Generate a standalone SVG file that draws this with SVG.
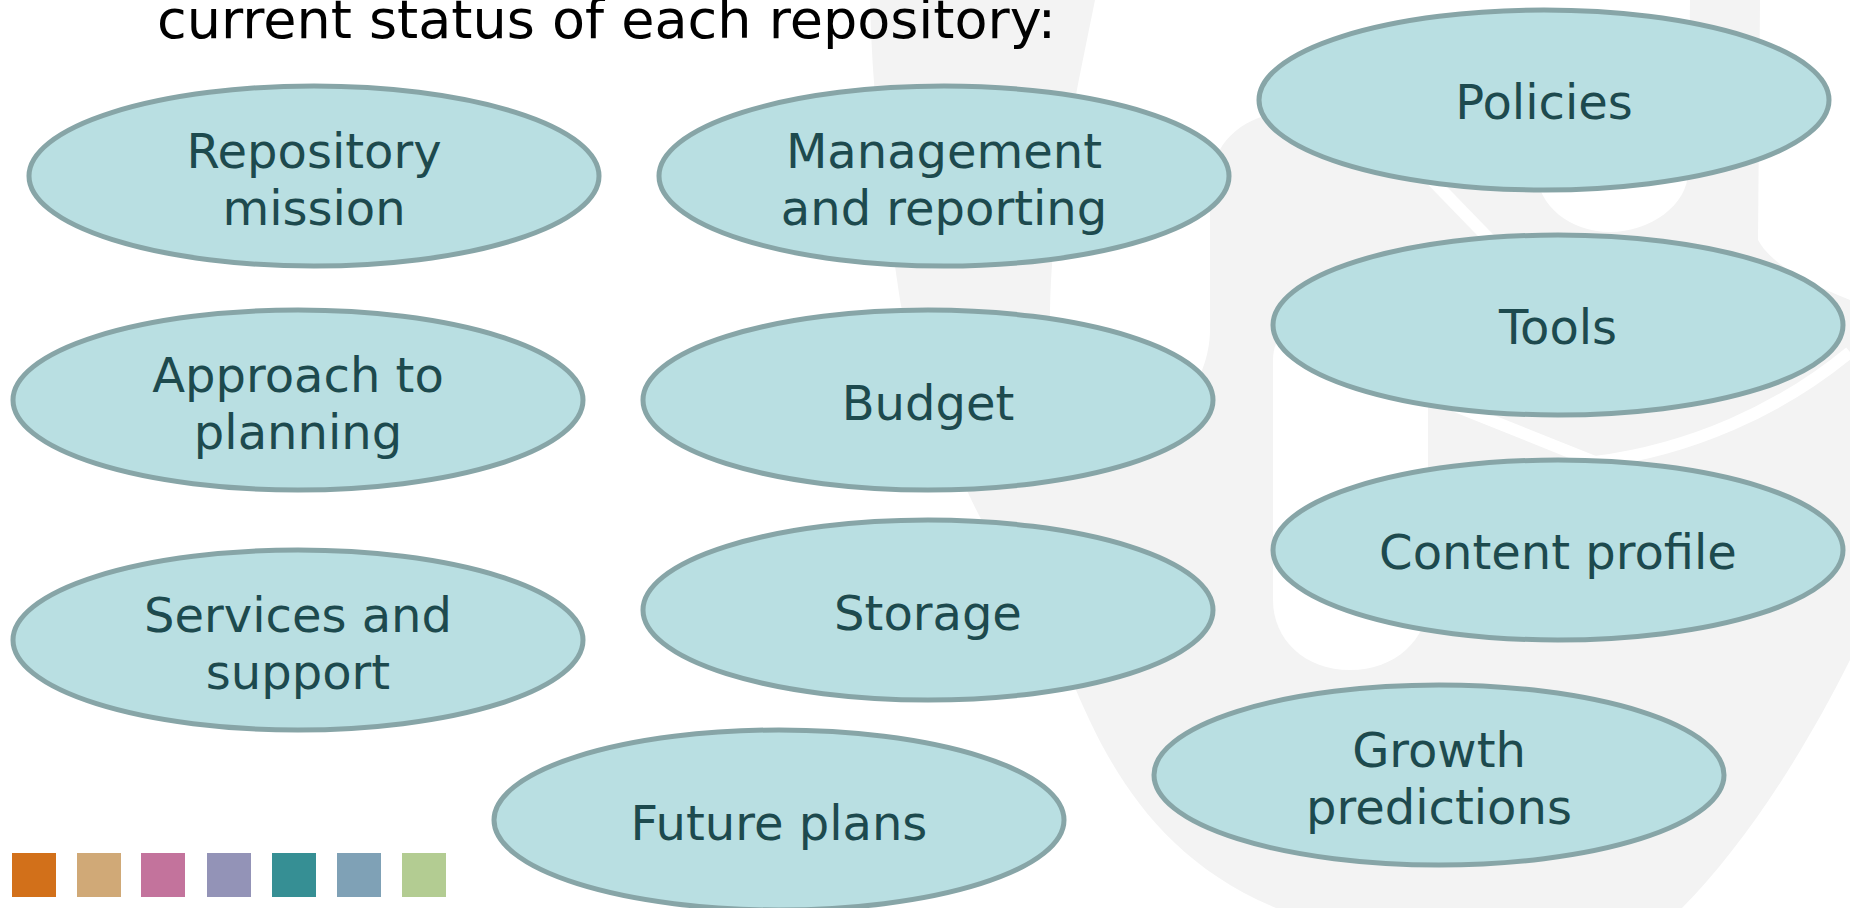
<svg xmlns="http://www.w3.org/2000/svg" width="1850" height="908" viewBox="0 0 1850 908">
<style>
.bg{fill:#f3f3f3}
.hole{fill:#ffffff}
.node ellipse{fill:#b9dfe2;stroke:#87a5a7;stroke-width:5}
.node text{font-family:"DejaVu Sans","Liberation Sans",sans-serif;font-size:48px;fill:#1d4a4e;text-anchor:middle}
.title{font-family:"DejaVu Sans","Liberation Sans",sans-serif;font-size:54px;fill:#000}
</style>
<rect width="1850" height="908" fill="#ffffff"/>
<g id="watermark">
<path class="bg" d="M870,0 L1850,0 L1850,660 C1800,760 1740,850 1682,908 L1276,908 C1160,860 1110,770 1076,690 C1040,620 1000,560 970,497 C935,420 910,360 900,300 C885,200 872,100 870,0 Z"/>
<path class="hole" d="M1095,0 C1075,100 1052,200 1050,310 L1050,400 C1050,430 1080,440 1110,440 C1170,440 1210,380 1210,330 L1210,190 C1210,140 1245,112 1300,110 L1537,110 L1537,172 C1537,205 1570,232 1610,232 C1650,232 1688,205 1688,172 L1690,0 Z"/>
<path class="hole" d="M1760,0 L1850,0 L1850,300 C1800,280 1770,262 1758,240 Z"/>
<path class="hole" d="M1273,360 C1273,335 1290,325 1310,325 L1390,325 C1410,325 1428,335 1428,360 L1428,600 C1428,640 1395,670 1350,670 C1305,670 1273,640 1273,600 Z"/>
<path d="M1432,180 L1495,245" stroke="#ffffff" stroke-width="12" fill="none"/>
<path d="M1440,400 L1595,462 C1690,450 1780,410 1850,352" stroke="#ffffff" stroke-width="12" fill="none"/>
</g>
<text class="title" x="157" y="38">current status of each repository:</text>
<g id="connectors"></g>
<g id="n-repository-mission" class="node"><ellipse cx="314" cy="176" rx="285" ry="90"/><text x="314" y="168">Repository</text><text x="314" y="225">mission</text></g>
<g id="n-management" class="node"><ellipse cx="944" cy="176" rx="285" ry="90"/><text x="944" y="168">Management</text><text x="944" y="225">and reporting</text></g>
<g id="n-policies" class="node"><ellipse cx="1544" cy="100" rx="285" ry="90"/><text x="1544" y="119">Policies</text></g>
<g id="n-tools" class="node"><ellipse cx="1558" cy="325" rx="285" ry="90"/><text x="1558" y="344">Tools</text></g>
<g id="n-approach" class="node"><ellipse cx="298" cy="400" rx="285" ry="90"/><text x="298" y="392">Approach to</text><text x="298" y="449">planning</text></g>
<g id="n-budget" class="node"><ellipse cx="928" cy="400" rx="285" ry="90"/><text x="928" y="420">Budget</text></g>
<g id="n-content" class="node"><ellipse cx="1558" cy="550" rx="285" ry="90"/><text x="1558" y="569">Content profile</text></g>
<g id="n-services" class="node"><ellipse cx="298" cy="640" rx="285" ry="90"/><text x="298" y="632">Services and</text><text x="298" y="689">support</text></g>
<g id="n-storage" class="node"><ellipse cx="928" cy="610" rx="285" ry="90"/><text x="928" y="630">Storage</text></g>
<g id="n-growth" class="node"><ellipse cx="1439" cy="775" rx="285" ry="90"/><text x="1439" y="767">Growth</text><text x="1439" y="824">predictions</text></g>
<g id="n-future" class="node"><ellipse cx="779" cy="820" rx="285" ry="90"/><text x="779" y="840">Future plans</text></g>
<g id="swatches">
<rect x="12" y="853" width="44" height="44" fill="#d2701a"/>
<rect x="77" y="853" width="44" height="44" fill="#d0a977"/>
<rect x="141" y="853" width="44" height="44" fill="#c3739c"/>
<rect x="207" y="853" width="44" height="44" fill="#9393b7"/>
<rect x="272" y="853" width="44" height="44" fill="#368f94"/>
<rect x="337" y="853" width="44" height="44" fill="#7fa1b6"/>
<rect x="402" y="853" width="44" height="44" fill="#b3cc92"/>
</g>
</svg>
